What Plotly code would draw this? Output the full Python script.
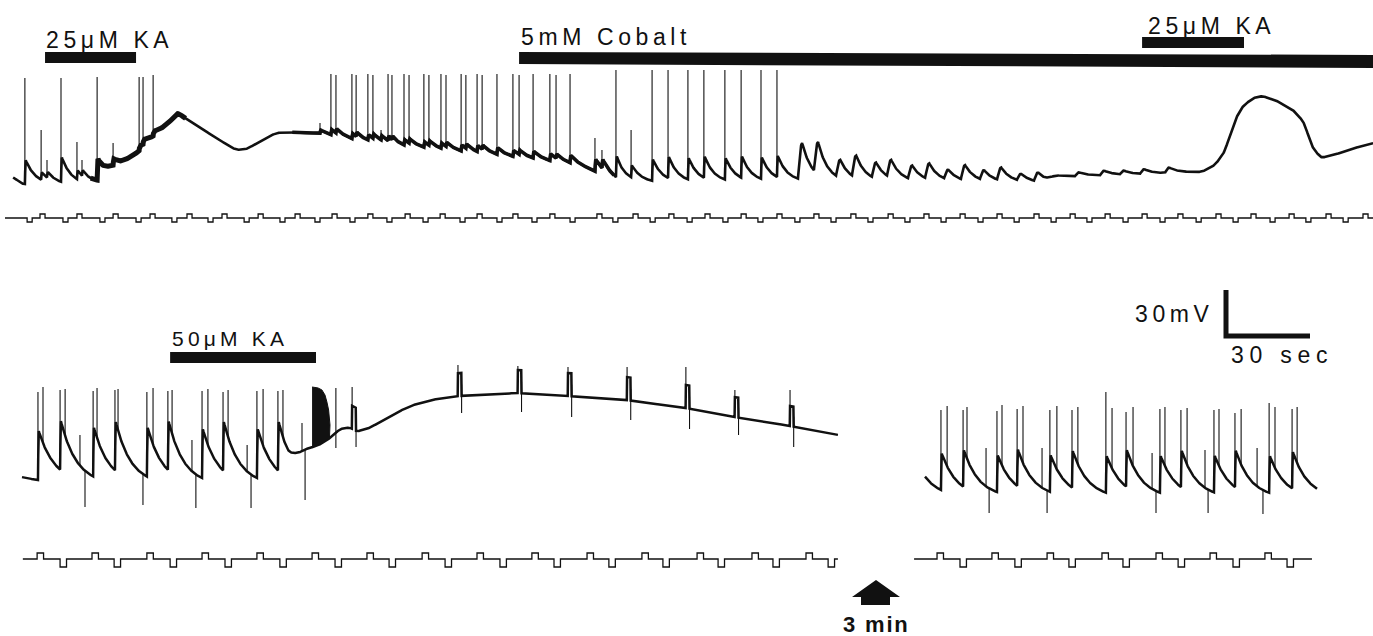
import numpy as np
import plotly.graph_objects as go

# ============================ DATA ============================
# All times in seconds from the start of each sweep, potentials in mV,
# injected current in nA.

# ---- Upper record (25 uM KA, then 5 mM cobalt, then 25 uM KA) ----
R1_BASE_T = [0.4, 3.6, 15.4, 27.9, 31.4, 36.1, 38.6, 43.2, 49.3, 52.9, 56.4, 58.9, 67.1,
             73.2, 77.9, 80.4, 83.9, 87.5, 91.1, 94.6, 99.3, 102.9, 110.0, 117.1, 124.3,
             134.3, 136.8, 145.7, 156.4, 174.3, 188.6, 199.3, 206.4, 211.8, 217.1, 245.7,
             281.4, 317.1, 368.9, 372.9, 398.9, 425.0, 429.6, 432.9, 436.8, 439.3, 443.2,
             446.4, 451.1, 457.5, 461.4, 464.3, 467.5, 472.1, 477.1, 486.1]
R1_BASE_V = [-58.0, -62.6, -63.3, -63.3, -62.0, -53.5, -51.5, -45.0, -35.2, -29.3, -22.8,
             -16.3, -26.1, -32.6, -38.5, -40.4, -39.8, -35.9, -32.0, -29.3, -28.7, -29.3,
             -29.3, -32.6, -35.2, -37.2, -39.1, -39.8, -41.7, -45.0, -47.6, -50.2, -53.5,
             -57.4, -62.0, -62.0, -61.3, -61.3, -62.0, -58.0, -56.7, -54.8, -50.2, -42.4,
             -20.9, -12.4, -6.5, -5.2, -7.8, -14.3, -22.2, -38.5, -45.6, -43.7, -40.4, -35.9]
R1_SPIKE_T = [4.6, 10.4, 12.5, 17.5, 23.2, 25.0, 30.4, 36.1, 45.4, 46.8, 50.4, 110.0, 113.9,
              115.7, 121.4, 122.9, 127.1, 128.9, 131.8, 134.3, 135.7, 140.0, 141.8, 147.1,
              148.9, 153.2, 155.0, 160.4, 162.1, 166.1, 167.9, 173.2, 178.9, 181.1, 186.1,
              192.1, 194.3, 199.3, 208.2, 210.7, 215.7, 221.1, 228.6, 234.3, 241.4, 247.1,
              254.6, 260.4, 267.5, 273.2]
R1_SPIKE_PEAK = [6.5, -27.4, -47.0, 6.5, -35.2, -47.0, 7.2, -35.9, 7.2, 7.2, 8.5, -22.8, 9.1,
                 8.5, 9.1, 8.5, 9.1, 8.5, -27.4, 9.1, 8.5, 9.1, 8.5, 9.1, 8.5, 9.1, 8.5, 9.1,
                 8.5, 9.1, 8.5, 9.1, 9.1, 8.5, 9.1, 9.1, 8.5, 9.1, -32.6, -40.4, 11.8, -27.4,
                 11.8, 11.8, 11.8, 11.8, 11.8, 11.8, 11.8, 11.8]
R1_SPIKE_ADP = [15.6, 5.0, 4.0, 16.0, 6.0, 4.0, 14.0, 4.0, 3.0, 3.0, 3.0, 2.0, 3.5, 3.0, 3.5,
                3.0, 3.5, 3.0, 3.0, 3.5, 3.0, 3.5, 3.0, 3.5, 3.0, 3.5, 3.0, 4.0, 3.0, 4.0,
                3.0, 4.5, 4.0, 3.0, 4.5, 4.5, 3.0, 5.0, 8.0, 6.0, 14.0, 8.0, 14.0, 14.0,
                14.0, 14.0, 14.0, 14.0, 14.0, 14.0]
R1_BUMP_T = [280.7, 286.4, 294.3, 300.0, 307.1, 312.5, 320.0, 326.1, 332.9, 338.9, 345.7,
             351.8, 358.9, 365.0, 379.6, 388.6, 395.7, 402.9, 411.8]
R1_BUMP_AMP = [24.0, 21.0, 11.7, 14.4, 10.4, 11.7, 9.1, 10.4, 6.5, 9.8, 6.5, 8.5, 4.6, 5.9,
               2.5, 3.0, 2.5, 3.0, 3.5]
R1_STIM_UP_T = [10.0, 23.2, 36.1, 49.3, 62.5, 75.0, 87.9, 101.1, 114.3, 127.1, 140.4, 152.9,
                166.1, 178.9, 192.1, 208.9, 221.8, 234.6, 247.5, 260.4, 273.2, 286.4, 299.6,
                312.9, 325.7, 338.6, 351.8, 365.0, 377.9, 390.4, 403.6, 416.4, 430.0, 442.5,
                456.1, 469.3, 482.5]
R1_STIM_DOWN_T = [5.4, 18.2, 31.4, 44.3, 57.1, 70.0, 82.9, 95.7, 108.2, 120.7, 133.9, 146.8,
                  160.0, 173.2, 185.7, 199.3, 214.6, 227.9, 241.1, 253.9, 266.4, 279.6, 292.5,
                  305.7, 318.9, 331.8, 345.0, 357.9, 371.1, 383.9, 396.8, 410.0, 422.9, 436.1,
                  449.3, 462.1, 475.4]
R1_STIM_SPAN = (-2.5, 486.1)
R1_STIM_UP_NA, R1_STIM_DOWN_NA, R1_STIM_WIDTH = 0.5, 0.5, 1.8

KA25_FIRST = (11.8, 44.3)
COBALT = (181.1, 486.1)
KA25_SECOND = (403.6, 440.0)

# ---- Lower left record (50 uM KA) ----
BL_BASE_T = [0.0, 5.4, 27.9, 63.6, 95.0, 98.6, 102.1, 105.7, 110.0, 113.6, 117.1, 119.6,
             124.3, 131.4, 138.6, 145.7, 155.7, 177.1, 195.0, 216.1, 237.1, 254.6, 274.3, 291.4]
BL_BASE_V = [-60.0, -62.0, -64.6, -65.2, -65.2, -55.4, -47.0, -42.4, -35.9, -29.3, -28.0,
             -30.6, -28.0, -20.2, -13.7, -9.8, -7.2, -5.2, -7.2, -9.8, -15.0, -20.9, -26.7, -32.6]
BL_SPIKE_T = [5.7, 7.5, 13.6, 15.4, 25.4, 26.8, 33.2, 34.3, 44.6, 46.8, 52.1, 53.6, 64.3,
              66.4, 71.8, 73.6, 83.9, 86.1, 91.4, 93.2]
BL_SPIKE_PEAK = [-4.5, -1.3, -3.2, -2.6, -3.9, -2.0, -3.2, -2.6, -4.5, -2.0, -3.9, -3.2, -3.9,
                 -2.6, -4.5, -3.2, -3.9, -2.6, -3.9, -3.2]
BL_SPIKE_ADP = [32.0, 0.0] * 10
# high-frequency discharge at the onset of the 50 uM KA depolarisation: envelope of spike tips
BL_BURST_T = [103.6, 105.7, 107.1, 108.2, 108.9, 109.5, 110.0]
BL_BURST_PEAK = [-1.3, -1.9, -3.2, -6.5, -11.1, -16.3, -26.1]
BL_ART_T = [20.7, 41.4, 60.7, 80.4, 100.0, 112.1, 117.9, 155.7, 177.1, 195.0, 216.1, 237.1,
            254.6, 274.3]
BL_ART_TIP = [-32.6, None, -35.9, -39.1, -24.8, -1.9, -1.3, 13.1, 12.4, 11.8, 11.8, 11.8,
              -3.2, -3.2]
BL_ART_STEP = [0, 0, 0, 0, 0, 0, 15, 15, 15, 15, 15, 15, 13, 13]
BL_ART_DOWN = [-79.6, -78.3, -80.2, -80.2, -75.0, -41.1, -40.4, -18.3, -17.6, -20.9, -22.8,
               -28.7, -32.6, -40.4]
BL_ART_W = [1.8, 1.8, 1.4, 1.4, 1.1, 0.0, 1.4, 1.3, 1.3, 1.3, 1.3, 1.3, 1.3, 1.3]
BL_STIM_UP_T = [5.4, 25.0, 44.6, 64.3, 83.9, 103.6, 123.2, 142.9, 162.5, 182.1, 201.8, 221.4,
                241.1, 260.7, 280.0]
BL_STIM_DOWN_T = [13.6, 32.9, 52.9, 72.5, 92.1, 111.8, 131.1, 151.1, 170.7, 190.0, 209.6,
                  228.9, 248.6, 268.2, 287.9]
BL_STIM_SPAN = (0.3, 291.4)
KA50 = (52.9, 105.0)

# ---- Lower right record (3 min after wash) ----
BR_BASE_T = [0.0, 70.0, 140.0]
BR_BASE_V = [-73.0, -73.7, -73.7]
BR_PRE_T, BR_PRE_AMP = [-0.6], [14.0]
BR_SPIKE_T = [5.7, 7.9, 13.6, 15.0, 25.7, 27.5, 32.9, 35.0, 44.6, 47.1, 52.5, 54.6, 64.6,
              66.8, 71.8, 74.3, 83.9, 85.7, 91.4, 93.6, 103.2, 105.0, 110.7, 112.9, 122.9,
              125.0, 131.1, 132.9]
BR_SPIKE_PEAK = [-16.3, -13.7, -16.3, -14.3, -17.0, -13.0, -15.6, -13.7, -16.3, -13.7, -16.3,
                 -14.3, -4.6, -15.0, -17.6, -14.3, -15.6, -14.3, -16.3, -15.0, -16.3, -15.6,
                 -18.3, -15.6, -11.7, -14.3, -15.6, -14.3]
BR_SPIKE_ADP = [24.0, 0.0] * 14
BR_ART_T = [21.8, 41.8, 81.1, 100.0, 118.6]
BR_ART_TIP = [-41.1, -41.1, -44.3, -42.4, -41.1]
BR_ART_STEP = [0, 0, 0, 0, 0]
BR_ART_DOWN = [-83.5, -83.5, -83.5, -83.5, -84.1]
BR_ART_W = [1.1, 1.8, 1.4, 1.1, 2.1]
BR_STIM_UP_T = [4.3, 23.9, 43.6, 63.2, 82.5, 101.8, 121.4]
BR_STIM_DOWN_T = [12.5, 32.1, 51.4, 70.7, 90.4, 110.0, 129.3]
BR_STIM_SPAN = (-3.9, 138.2)
BOT_STIM_UP_NA, BOT_STIM_DOWN_NA, BOT_STIM_WIDTH = 0.75, 1.0, 2.3

# kinetics of the depolarising envelopes (s)
R1_TAU, BOT_TAU = 3.5, 5.4
SPIKE_RISE, BUMP_RISE = 0.3, 1.5

SCALE_S, SCALE_MV = 30, 30
REST_MV = -60.0

# ============================ LAYOUT / STYLE ============================
W, H = 1373, 636
PX_PER_S, PX_PER_MV, PX_PER_NA = 2.8, 1.533, 8.0
R1_X0, R1_VREF_PY, R1_STIM_PY = 12, 180, 218
BL_X0, BR_X0, BOT_VREF_PY, BOT_STIM_PY = 22, 925, 477, 559
INK = "#111111"
FONT = "Liberation Sans, Arial, Helvetica, sans-serif"
DT = 0.1
SMOOTH_N = 15          # samples of the boxcar used to round the slow baseline
R1_THICK = [(28.0, 62.0, 5.0), (100.0, 215.0, 3.6)]   # noisier stretches of the upper pen


def smooth(y, n):
    if n < 2:
        return y
    k = np.ones(n) / n
    pad = np.pad(y, (n, n), mode="edge")
    for _ in range(2):
        pad = np.convolve(pad, k, mode="same")
    return pad[n:-n]


def membrane(t, base_t, base_v, groups):
    v = smooth(np.interp(t, base_t, base_v), SMOOTH_N)
    for ev_t, ev_a, rise, tau in groups:
        for t0, a in zip(ev_t, ev_a):
            if not a:
                continue
            d = t - t0
            k = np.zeros_like(t)
            r = (d >= 0) & (d < rise)
            k[r] = np.sin(0.5 * np.pi * d[r] / rise)
            f = d >= rise
            k[f] = np.exp(-(d[f] - rise) / tau)
            v = v + a * k
    return v


def add_steps(t, v, art_t, art_w, art_step):
    v = v.copy()
    for t0, w, s in zip(art_t, art_w, art_step):
        if s:
            v[(t >= t0) & (t < t0 + w)] += s
    return v


def needles(t, v, times, tips, offset=0.0, widths=None):
    xs, ys = [], []
    for i, (t0, p) in enumerate(zip(times, tips)):
        if p is None:
            continue
        tt = t0 + (widths[i] if widths else 0.0)
        base = float(np.interp(tt + offset, t, v))
        xs += [tt, tt, None]
        ys += [base, p, None]
    return xs, ys


def stim_trace(span, up_t, down_t, up_a, down_a, width):
    ev = sorted([(x, up_a) for x in up_t] + [(x, -down_a) for x in down_t])
    xs, ys = [span[0]], [0.0]
    for t0, a in ev:
        if t0 < span[0] or t0 + width > span[1]:
            continue
        xs += [t0, t0, t0 + width, t0 + width]
        ys += [0.0, a, a, 0.0]
    xs.append(span[1])
    ys.append(0.0)
    return xs, ys


fig = go.Figure()


def line(x, y, xa, ya, w, **kw):
    fig.add_trace(go.Scatter(x=x, y=y, xaxis=xa, yaxis=ya, mode="lines",
                             line=dict(color=INK, width=w), hoverinfo="skip",
                             showlegend=False, connectgaps=False, **kw))


def record(base_t, base_v, spk_t, spk_p, spk_adp, extra_groups, tau, art, xa, ya,
           width, thick=()):
    t = np.arange(base_t[0], base_t[-1] + 1e-9, DT)
    groups = [(spk_t, spk_adp, SPIKE_RISE, tau)] + extra_groups
    v = membrane(t, base_t, base_v, groups)
    if art:
        a_t, a_tip, a_step, a_down, a_w = art
        v = add_steps(t, v, a_t, a_w, a_step)
    line(t, v, xa, ya, width)
    for t0, t1, w in thick:
        m = (t >= t0) & (t <= t1)
        line(t[m], v[m], xa, ya, w)
    nx, ny = needles(t, v, spk_t, spk_p, offset=-0.05)
    if art:
        ux, uy = needles(t, v, a_t, a_tip, offset=-0.05)
        dx, dy = needles(t, v, a_t, a_down, offset=-0.05, widths=a_w)
        nx += ux + dx
        ny += uy + dy
    line(nx, ny, xa, ya, 1.1)
    return t, v


# upper record
record(R1_BASE_T, R1_BASE_V, R1_SPIKE_T, R1_SPIKE_PEAK, R1_SPIKE_ADP,
       [(R1_BUMP_T, R1_BUMP_AMP, BUMP_RISE, R1_TAU)], R1_TAU, None, "x", "y", 2.6,
       R1_THICK)
sx, sy = stim_trace(R1_STIM_SPAN, R1_STIM_UP_T, R1_STIM_DOWN_T,
                    R1_STIM_UP_NA, R1_STIM_DOWN_NA, R1_STIM_WIDTH)
line(sx, sy, "x", "y2", 1.3)

# lower left
tb, vb = record(BL_BASE_T, BL_BASE_V, BL_SPIKE_T, BL_SPIKE_PEAK, BL_SPIKE_ADP, [], BOT_TAU,
                (BL_ART_T, BL_ART_TIP, BL_ART_STEP, BL_ART_DOWN, BL_ART_W), "x2", "y3", 2.5)
m = (tb >= BL_BURST_T[0]) & (tb <= BL_BURST_T[-1])
burst_x = list(BL_BURST_T) + list(tb[m][::-1])
burst_y = list(BL_BURST_PEAK) + list(vb[m][::-1])
line(burst_x, burst_y, "x2", "y3", 1.0, fill="toself", fillcolor=INK)
sx, sy = stim_trace(BL_STIM_SPAN, BL_STIM_UP_T, BL_STIM_DOWN_T,
                    BOT_STIM_UP_NA, BOT_STIM_DOWN_NA, BOT_STIM_WIDTH)
line(sx, sy, "x2", "y4", 1.3)

# lower right
record(BR_BASE_T, BR_BASE_V, BR_SPIKE_T, BR_SPIKE_PEAK, BR_SPIKE_ADP,
       [(BR_PRE_T, BR_PRE_AMP, SPIKE_RISE, BOT_TAU)], BOT_TAU,
       (BR_ART_T, BR_ART_TIP, BR_ART_STEP, BR_ART_DOWN, BR_ART_W), "x3", "y3", 2.5)
sx, sy = stim_trace(BR_STIM_SPAN, BR_STIM_UP_T, BR_STIM_DOWN_T,
                    BOT_STIM_UP_NA, BOT_STIM_DOWN_NA, BOT_STIM_WIDTH)
line(sx, sy, "x3", "y4", 1.3)


def xr(x0):
    return [-x0 / PX_PER_S, (W - x0) / PX_PER_S]


def yr(py, ref, ppu):
    return [ref - (H - py) / ppu, ref + py / ppu]


def py2p(py):
    return 1 - py / H


hid = dict(visible=False, fixedrange=True, showgrid=False, zeroline=False)
shapes = []


def bar(xref, t0, t1, top_py, bot_py):
    shapes.append(dict(type="rect", xref=xref, yref="paper", x0=t0, x1=t1,
                       y0=py2p(bot_py), y1=py2p(top_py), fillcolor=INK,
                       line=dict(width=0), layer="above"))


bar("x", KA25_FIRST[0], KA25_FIRST[1], 52, 63)
bar("x", KA25_SECOND[0], KA25_SECOND[1], 37, 48)
bar("x2", KA50[0], KA50[1], 352, 363)
shapes.append(dict(type="path", xref="x", yref="paper", fillcolor=INK, line=dict(width=0),
                   path=(f"M {COBALT[0]},{py2p(52)} L {COBALT[1] + 2},{py2p(55)} "
                         f"L {COBALT[1] + 2},{py2p(68)} L {COBALT[0]},{py2p(64)} Z")))

# calibration bar (drawn in lower-left record units)
sc_t = (1226 - BL_X0) / PX_PER_S
sc_v = REST_MV + (BOT_VREF_PY - 336) / PX_PER_MV
shapes.append(dict(type="path", xref="x2", yref="y3", line=dict(color=INK, width=5),
                   path=(f"M {sc_t},{sc_v + SCALE_MV} L {sc_t},{sc_v} "
                         f"L {sc_t + SCALE_S},{sc_v}")))

# time-break arrow
arrow_px = [(852, 597), (876, 580), (900, 597), (890, 597), (890, 605), (861, 605), (861, 597)]
shapes.append(dict(type="path", xref="paper", yref="paper", fillcolor=INK, line=dict(width=0),
                   path="M " + " L ".join(f"{x / W},{py2p(y)}" for x, y in arrow_px) + " Z"))


def spaced(s, gap="\u2009"):
    return gap.join(s)


ann = []


def label(text, x, y, xref="paper", size=23, xanchor="left", bold=False, xshift=0):
    ann.append(dict(text=f"<b>{text}</b>" if bold else text, x=x, y=y, xref=xref,
                    yref="paper", xanchor=xanchor, yanchor="middle", showarrow=False,
                    xshift=xshift, font=dict(family=FONT, size=size, color=INK)))


label(spaced("25μM KA"), KA25_FIRST[0], py2p(40), xref="x", xshift=-1)
label(spaced("5mM Cobalt"), COBALT[0], py2p(37), xref="x")
label(spaced("25μM KA"), KA25_SECOND[0], py2p(26), xref="x", xshift=4)
label(spaced("50μM KA"), KA50[0], py2p(338), xref="x2", size=21)
label(spaced(f"{SCALE_MV}mV"), 1212 / W, py2p(314), xanchor="right")
label(spaced(f"{SCALE_S} sec", "\u2005"), 1229 / W, py2p(355))
label(spaced("3 min", "\u200a"), 876 / W, py2p(624), size=22, xanchor="center", bold=True)

fig.update_layout(
    width=W, height=H, margin=dict(l=0, r=0, t=0, b=0, pad=0),
    paper_bgcolor="white", plot_bgcolor="rgba(0,0,0,0)", showlegend=False,
    hovermode=False,
    xaxis=dict(domain=[0, 1], range=xr(R1_X0), anchor="y", **hid),
    xaxis2=dict(domain=[0, 1], range=xr(BL_X0), overlaying="x", anchor="y3", **hid),
    xaxis3=dict(domain=[0, 1], range=xr(BR_X0), overlaying="x", anchor="y3", **hid),
    yaxis=dict(domain=[0, 1], range=yr(R1_VREF_PY, REST_MV, PX_PER_MV), anchor="x", **hid),
    yaxis2=dict(range=yr(R1_STIM_PY, 0, PX_PER_NA), overlaying="y", anchor="x", **hid),
    yaxis3=dict(range=yr(BOT_VREF_PY, REST_MV, PX_PER_MV), overlaying="y", anchor="x2", **hid),
    yaxis4=dict(range=yr(BOT_STIM_PY, 0, PX_PER_NA), overlaying="y", anchor="x2", **hid),
    shapes=shapes, annotations=ann,
)

fig.write_html("out.html", config={"displayModeBar": False})
